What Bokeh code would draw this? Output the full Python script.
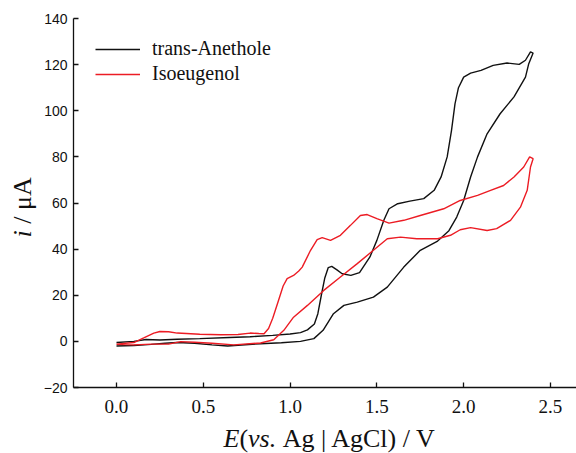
from bokeh.plotting import figure
from bokeh.layouts import column, row
from bokeh.models import (Range1d, FixedTicker, NumeralTickFormatter, Legend,
                          LegendItem, Label)
from bokeh.embed import file_html
from bokeh.resources import INLINE

# Cyclic voltammograms: anodic sweep 0 -> 2.4 V, then back to 0 V
anethole_fwd_E = [0.0, 0.1, 0.17, 0.25, 0.35, 0.48, 0.65, 0.77, 0.9, 1.0, 1.06, 1.1,
                  1.14, 1.16, 1.18, 1.20, 1.22, 1.24, 1.27, 1.30, 1.35, 1.40, 1.46,
                  1.50, 1.54, 1.57, 1.62, 1.69, 1.77, 1.83, 1.87, 1.905, 1.93, 1.95,
                  1.97, 2.0, 2.04, 2.10, 2.17, 2.25, 2.32, 2.356, 2.385, 2.40]
anethole_fwd_i = [-0.5, 0.0, 0.8, 0.6, 0.9, 1.2, 1.7, 2.0, 2.6, 3.2, 3.8, 5.0,
                  7.5, 12.0, 20.0, 27.5, 32.0, 32.5, 31.0, 29.3, 28.6, 29.8, 36.6,
                  43.8, 52.5, 57.5, 59.7, 60.8, 61.9, 65.5, 71.3, 80.0, 91.5, 103.0,
                  110.0, 114.6, 116.3, 117.5, 119.7, 120.7, 120.1, 121.9, 125.5, 125.0]
anethole_rev_E = [2.40, 2.375, 2.356, 2.29, 2.21, 2.135, 2.08, 2.04, 2.0, 1.96, 1.915,
                  1.85, 1.75, 1.655, 1.56, 1.48, 1.387, 1.31, 1.25, 1.19, 1.137, 1.06,
                  0.95, 0.83, 0.72, 0.64, 0.55, 0.45, 0.35, 0.28, 0.2, 0.1, 0.0]
anethole_rev_i = [125.0, 120.4, 114.6, 106.0, 98.7, 90.0, 80.0, 71.3, 61.1, 53.9, 48.0,
                  43.5, 39.5, 32.2, 23.5, 19.2, 17.0, 15.6, 12.0, 4.8, 1.2, 0.0,
                  -0.6, -1.0, -1.6, -2.0, -1.5, -0.8, -0.5, -0.8, -1.3, -1.8, -2.0]

isoeugenol_fwd_E = [0.0, 0.1, 0.157, 0.215, 0.25, 0.3, 0.35, 0.48, 0.6, 0.7, 0.77, 0.82,
                    0.85, 0.876, 0.9, 0.93, 0.96, 0.983, 1.02, 1.05, 1.07, 1.118, 1.156,
                    1.185, 1.233, 1.29, 1.348, 1.405, 1.444, 1.50, 1.57, 1.655, 1.75,
                    1.885, 1.98, 2.08, 2.155, 2.23, 2.29, 2.346, 2.38, 2.40]
isoeugenol_fwd_i = [-1.2, -0.5, 1.5, 3.6, 4.3, 4.2, 3.6, 3.1, 2.9, 3.0, 3.6, 3.4,
                    3.3, 5.6, 10.0, 17.0, 24.0, 27.2, 28.6, 30.5, 32.2, 39.5, 44.1,
                    45.0, 43.8, 46.0, 50.3, 54.6, 55.0, 53.2, 51.3, 52.5, 54.6,
                    57.5, 61.1, 63.3, 65.5, 67.6, 71.3, 75.6, 80.0, 79.2]
isoeugenol_rev_E = [2.40, 2.385, 2.366, 2.327, 2.27, 2.19, 2.135, 2.04, 1.98, 1.924, 1.85,
                    1.73, 1.636, 1.56, 1.48, 1.387, 1.29, 1.194, 1.10, 1.02, 0.964, 0.906,
                    0.83, 0.676, 0.55, 0.45, 0.37, 0.3, 0.2, 0.1, 0.0]
isoeugenol_rev_i = [79.2, 75.6, 65.5, 58.2, 52.5, 48.9, 48.1, 49.3, 48.4, 46.0, 44.5,
                    44.5, 45.2, 44.5, 39.5, 33.7, 27.9, 22.1, 15.6, 10.5, 4.8, 0.7,
                    -0.7, -1.5, -0.8, -0.4, -0.1, -1.2, -1.2, -1.5, -1.3]

series_names = ["trans-Anethole", "Isoeugenol"]
x_ticks = [0.0, 0.5, 1.0, 1.5, 2.0, 2.5]
y_ticks = [-20, 0, 20, 40, 60, 80, 100, 120, 140]

BLACK = "#111111"
RED = "#ec1c24"
SERIF = "Liberation Serif"
SANS = "Liberation Sans"

p = figure(frame_width=503, frame_height=369,
           min_border_left=34, min_border_right=0,
           min_border_top=18, min_border_bottom=35,
           x_range=Range1d(-0.2477, 2.65), y_range=Range1d(-20, 140),
           output_backend="svg", toolbar_location=None)
p.outline_line_color = None
p.grid.visible = False
p.background_fill_color = "white"
p.border_fill_color = "white"

r_anethole = p.line(anethole_fwd_E + anethole_rev_E, anethole_fwd_i + anethole_rev_i,
                    line_color=BLACK, line_width=1.4)
r_iso = p.line(isoeugenol_fwd_E + isoeugenol_rev_E, isoeugenol_fwd_i + isoeugenol_rev_i,
               line_color=RED, line_width=1.4)

for ax in (p.xaxis[0], p.yaxis[0]):
    ax.major_tick_in = 5
    ax.major_tick_out = 0
    ax.minor_tick_in = 0
    ax.minor_tick_out = 0
    ax.axis_line_width = 1.3
    ax.axis_line_color = BLACK
    ax.major_tick_line_width = 1.3
    ax.major_tick_line_color = BLACK
    ax.major_label_text_color = BLACK

p.xaxis.ticker = FixedTicker(ticks=x_ticks)
p.xaxis.formatter = NumeralTickFormatter(format="0.0")
p.xaxis.major_label_text_font = SERIF
p.xaxis.major_label_text_font_size = "19px"
p.xaxis.major_label_standoff = 12

p.yaxis.ticker = FixedTicker(ticks=y_ticks)
p.yaxis.major_label_text_font = SANS
p.yaxis.major_label_text_font_size = "14px"
p.yaxis.major_label_standoff = 6

legend = Legend(items=[LegendItem(label=series_names[0], renderers=[r_anethole]),
                       LegendItem(label=series_names[1], renderers=[r_iso])],
                location=(22, 302), padding=0, margin=0, spacing=2,
                glyph_width=45, glyph_height=20, label_height=20,
                label_standoff=12, border_line_color=None,
                background_fill_alpha=0,
                label_text_font=SERIF, label_text_font_size="20px",
                label_text_color=BLACK)
p.add_layout(legend)


def text_panel(width, height):
    """A bare canvas used to hold axis-title text next to the main plot."""
    f = figure(width=width, height=height, min_border=0,
               x_range=Range1d(0, 1), y_range=Range1d(0, 1),
               x_axis_type=None, y_axis_type=None,
               output_backend="svg", toolbar_location=None)
    f.outline_line_color = None
    f.grid.visible = False
    f.background_fill_color = "white"
    f.border_fill_color = "white"
    return f


TITLE_SIZE = "26px"
em = 26.0
SPACE = 0.25 * em


def title_piece(f, text, x, y, italic=False, angle=0.0):
    f.add_layout(Label(x=x, y=y, x_units="screen", y_units="screen", text=text,
                       angle=angle, text_font=SERIF, text_font_size=TITLE_SIZE,
                       text_font_style="italic" if italic else "normal",
                       text_color=BLACK, text_align="left",
                       text_baseline="alphabetic"))


# y title: "i / μA", read bottom to top
left = text_panel(39, 422)
yt = 150.0
title_piece(left, "i", 22, yt, italic=True, angle=1.5708)
yt += 0.278 * em + SPACE
title_piece(left, "/ \u03bcA", 22, yt, angle=1.5708)

# x title: "E(vs. Ag | AgCl) / V"
bottom = text_panel(576, 31)
xt = 223.0
xb = 15
title_piece(bottom, "E", xt, xb, italic=True)
xt += 0.611 * em
title_piece(bottom, "(", xt, xb)
xt += 0.333 * em
title_piece(bottom, "vs.", xt, xb, italic=True)
xt += 1.083 * em + SPACE
title_piece(bottom, "Ag | AgCl) / V", xt, xb)

layout = column(row(left, p, spacing=0), bottom, spacing=0)
open("out.html", "w").write(file_html(layout, INLINE))
